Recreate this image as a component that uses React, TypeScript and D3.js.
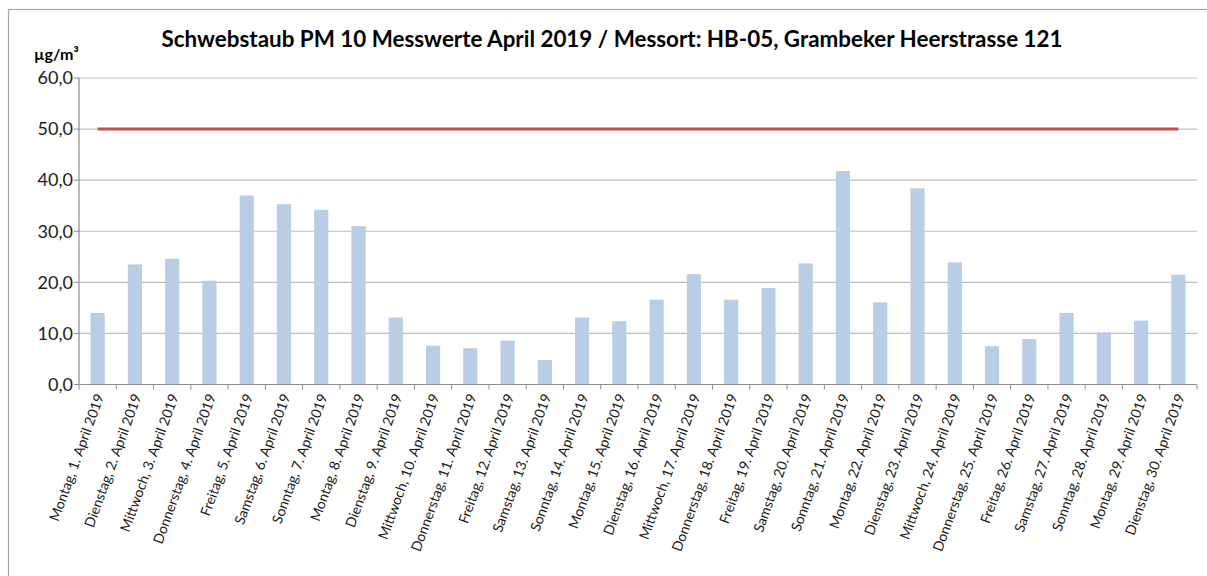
import React from "react";
import * as d3 from "d3";

const days: string[] = [
  "Montag, 1. April 2019", "Dienstag, 2. April 2019", "Mittwoch, 3. April 2019", "Donnerstag, 4. April 2019",
  "Freitag, 5. April 2019", "Samstag, 6. April 2019", "Sonntag, 7. April 2019", "Montag, 8. April 2019",
  "Dienstag, 9. April 2019", "Mittwoch, 10. April 2019", "Donnerstag, 11. April 2019", "Freitag, 12. April 2019",
  "Samstag, 13. April 2019", "Sonntag, 14. April 2019", "Montag, 15. April 2019", "Dienstag, 16. April 2019",
  "Mittwoch, 17. April 2019", "Donnerstag, 18. April 2019", "Freitag, 19. April 2019", "Samstag, 20. April 2019",
  "Sonntag, 21. April 2019", "Montag, 22. April 2019", "Dienstag, 23. April 2019", "Mittwoch, 24. April 2019",
  "Donnerstag, 25. April 2019", "Freitag, 26. April 2019", "Samstag, 27. April 2019", "Sonntag, 28. April 2019",
  "Montag, 29. April 2019", "Dienstag, 30. April 2019",
];
const pm10: number[] = [
  14.0, 23.5, 24.6, 20.3, 37.0, 35.3, 34.2, 31.0, 13.1, 7.6, 7.1, 8.6, 4.8, 13.1, 12.4,
  16.6, 21.6, 16.6, 18.9, 23.7, 41.8, 16.1, 38.4, 23.9, 7.5, 8.9, 14.0, 10.2, 12.5, 21.5,
];
const limitValue = 50;
const yTicks: number[] = [0, 10, 20, 30, 40, 50, 60];
const title = "Schwebstaub PM 10 Messwerte April 2019 / Messort: HB-05, Grambeker Heerstrasse 121";
const unit = "µg/m³";

const W = 1207, H = 576;
const left = 79, right = 1197, top = 78, bottom = 384.5;
const font = "Lato, 'Open Sans', sans-serif";

export default function App() {
  const x = d3.scaleBand<string>().domain(days).range([left, right]).paddingInner(0.62).paddingOuter(0.31);
  const xb = d3.scaleBand<string>().domain(days).range([left, right]);
  const y = d3.scaleLinear().domain([0, 60]).range([bottom, top]);
  const fmt = (v: number) => d3.format(".1f")(v).replace(".", ",");
  const c0 = xb(days[0])! + xb.bandwidth() / 2;
  const c1 = xb(days[days.length - 1])! + xb.bandwidth() / 2;
  return (
    <div style={{ position: "absolute", left: 0, top: 0 }}>
      <svg width={W} height={H} style={{ display: "block", background: "#fff" }}>
        <rect x={8.5} y={9.5} width={1230} height={600} fill="#fff" stroke="#a6a6a6" strokeWidth={1.2} />
        {yTicks.map((t) => (
          <g key={t}>
            {t > 0 && <line x1={left} x2={right} y1={y(t)} y2={y(t)} stroke="#bdbdbd" strokeWidth={1.2} />}
            <line x1={left - 5} x2={left} y1={y(t)} y2={y(t)} stroke="#8c8c8c" />
            <text x={left - 6} y={y(t)} dy="0.35em" textAnchor="end" fontFamily={font} fontSize={18} fill="#1a1a1a">
              {fmt(t)}
            </text>
          </g>
        ))}
        {days.map((d, i) => (
          <rect key={d} x={x(d)!} y={y(pm10[i])} width={x.bandwidth()} height={bottom - y(pm10[i])} fill="#b9cde5" />
        ))}
        <line x1={left} x2={left} y1={top} y2={bottom} stroke="#8c8c8c" strokeWidth={1.2} />
        <line x1={left} x2={right} y1={bottom} y2={bottom} stroke="#8c8c8c" strokeWidth={1.2} />
        {days.map((d) => (
          <line key={"t" + d} x1={xb(d)!} x2={xb(d)!} y1={bottom} y2={bottom + 5} stroke="#8c8c8c" />
        ))}
        <line x1={right} x2={right} y1={bottom} y2={bottom + 5} stroke="#8c8c8c" />
        <line x1={c0} x2={c1} y1={y(limitValue)} y2={y(limitValue)} stroke="#c0504d" strokeWidth={3} />
        {days.map((d) => {
          const cx = xb(d)! + xb.bandwidth() / 2 + 2;
          const cy = bottom + 10;
          return (
            <text key={"l" + d} x={cx} y={cy} dy="0.35em" textAnchor="end" fontFamily={font} fontSize={14} fill="#1a1a1a"
              transform={`rotate(-70 ${cx} ${cy})`}>
              {d}
            </text>
          );
        })}
        <text x={612} y={47} textAnchor="middle" fontFamily={font} fontSize={22.4} fontWeight="bold" fill="#000">
          {title}
        </text>
        <text x={34} y={60} fontFamily={font} fontSize={16} fontWeight="bold" fill="#000">
          {unit}
        </text>
      </svg>
    </div>
  );
}
